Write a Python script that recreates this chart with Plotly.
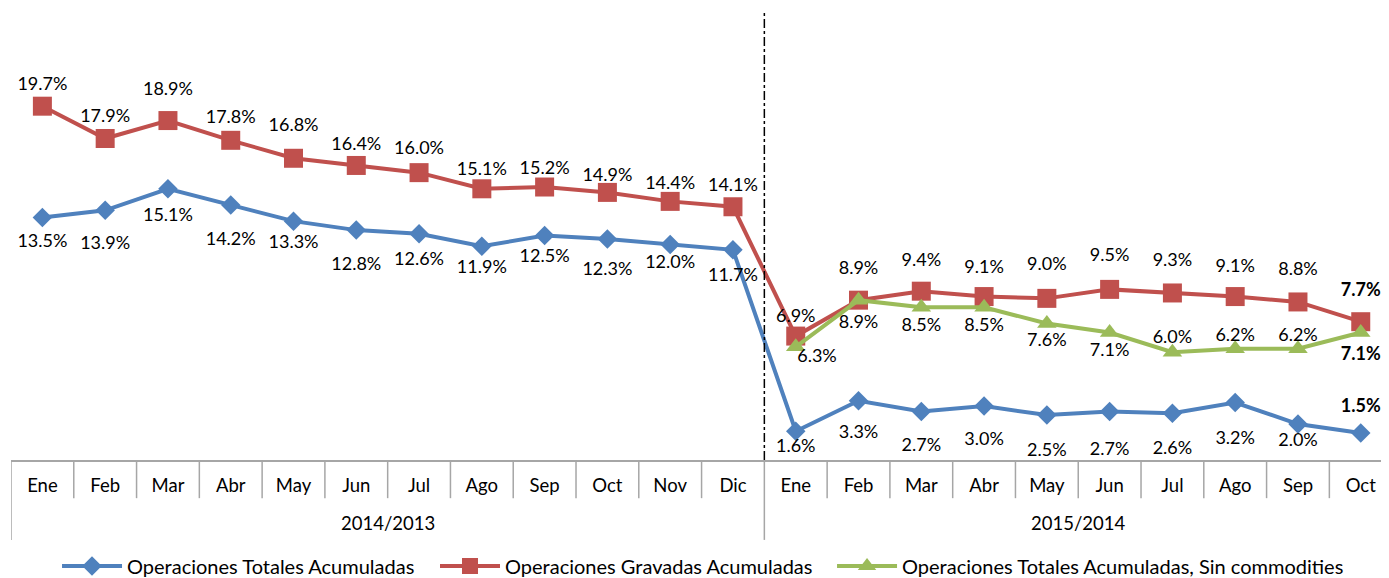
import plotly.graph_objects as go

months = ["Ene", "Feb", "Mar", "Abr", "May", "Jun", "Jul", "Ago", "Sep", "Oct", "Nov", "Dic",
          "Ene", "Feb", "Mar", "Abr", "May", "Jun", "Jul", "Ago", "Sep", "Oct"]
periods = ["2014/2013", "2015/2014"]
period_sizes = [12, 10]

totales = [13.5, 13.9, 15.1, 14.2, 13.3, 12.8, 12.6, 11.9, 12.5, 12.3, 12.0, 11.7,
           1.6, 3.3, 2.7, 3.0, 2.5, 2.7, 2.6, 3.2, 2.0, 1.5]
gravadas = [19.7, 17.9, 18.9, 17.8, 16.8, 16.4, 16.0, 15.1, 15.2, 14.9, 14.4, 14.1,
            6.9, 8.9, 9.4, 9.1, 9.0, 9.5, 9.3, 9.1, 8.8, 7.7]
sin_commod = [None] * 12 + [6.3, 8.9, 8.5, 8.5, 7.6, 7.1, 6.0, 6.2, 6.2, 7.1]

names = ["Operaciones Totales Acumuladas", "Operaciones Gravadas Acumuladas",
         "Operaciones Totales Acumuladas, Sin commodities"]

# ---- styling: label placement (distance in px from the point, and side) ----
gap_tot = [25, 35, 28, 36, 23, 36, 27, 23, 22, 32, 20, 27,
           17, 33, 35, 35, 37, 39, 37, 37, 18, 27]
side_tot = ["bottom center"] * 21 + ["top center"]
gap_grav = [22, 23, 32, 23, 33, 21, 25, 20, 19, 17, 18, 22,
            20, 32, 31, 30, 34, 34, 33, 31, 33, 32]
side_grav = ["top center"] * 22
gap_sin = [0] * 12 + [11, 24, 20, 20, 18, 20, 15, 14, 14, 24]
side_sin = (["bottom center"] * 12 + ["bottom right"] + ["bottom center"] * 5
            + ["top center"] * 3 + ["bottom center"])

BLUE = "#4F81BD"
RED = "#C0504D"
GREEN = "#9BBB59"
FONT = "Lato, 'Liberation Sans', Arial, sans-serif"
LABEL_SIZE = 18

x = list(range(len(months)))
n = len(months)


def labels(vals):
    out = []
    for i, v in enumerate(vals):
        if v is None:
            out.append("")
        elif i == n - 1:
            out.append(f"<b>{v:.1f}%</b>")
        else:
            out.append(f"{v:.1f}%")
    return out


def spacer_sizes(gaps, sides):
    # invisible marker size that pushes the label to the wanted distance
    out = []
    for g, s in zip(gaps, sides):
        c = 11.5 if s.startswith("top") else 10.5
        out.append(max(0.0, 1.6 * (g - c)))
    return out


fig = go.Figure()
series = [
    (totales, names[0], BLUE, "diamond", 15, "legend", gap_tot, side_tot),
    (gravadas, names[1], RED, "square", 19, "legend2", gap_grav, side_grav),
    (sin_commod, names[2], GREEN, "triangle-up", 17, "legend3", gap_sin, side_sin),
]
for vals, name, color, sym, msize, leg, gaps, sides in series:
    fig.add_trace(go.Scatter(
        x=x, y=vals, name=name, mode="lines+markers", legend=leg,
        line=dict(color=color, width=4),
        marker=dict(symbol=sym, size=msize, color=color)))
for vals, name, color, sym, msize, leg, gaps, sides in series:
    fig.add_trace(go.Scatter(
        x=x, y=vals, mode="markers+text", showlegend=False, hoverinfo="skip",
        marker=dict(size=spacer_sizes(gaps, sides), opacity=0, color=color),
        text=labels(vals), textposition=sides,
        textfont=dict(family=FONT, size=LABEL_SIZE, color="#000000"),
        cliponaxis=False))

GRID = "#A6A6A6"
shapes = []
for b in range(n + 1):
    xb = b - 0.5
    is_group = b in (0, period_sizes[0], n)
    shapes.append(dict(type="line", xref="x", yref="paper", x0=xb, x1=xb,
                       y0=0, y1=-0.178 if is_group else -0.085,
                       line=dict(color=GRID, width=1.5)))
sep = period_sizes[0] - 0.5
shapes.append(dict(type="line", xref="x", yref="paper", x0=sep, x1=sep, y0=0, y1=1,
                   line=dict(color="#000000", width=1.5, dash="dashdot")))

annotations = []
start = 0
for p, sz in zip(periods, period_sizes):
    annotations.append(dict(x=start + (sz - 1) / 2, y=-0.140, xref="x", yref="paper",
                            yanchor="middle", text=p, showarrow=False,
                            font=dict(family=FONT, size=18.5, color="#000000")))
    start += sz

legend_common = dict(orientation="h", xanchor="left", xref="container",
                     y=0.021, yanchor="middle", yref="container",
                     font=dict(family=FONT, size=20, color="#000000"),
                     itemwidth=60, bgcolor="rgba(0,0,0,0)")

fig.update_layout(
    width=1381, height=570,
    margin=dict(l=3, r=0, t=3, b=118),
    plot_bgcolor="white", paper_bgcolor="white",
    showlegend=True,
    legend=dict(x=0.0355, **legend_common),
    legend2=dict(x=0.3092, **legend_common),
    legend3=dict(x=0.5967, **legend_common),
    shapes=shapes, annotations=annotations,
    xaxis=dict(range=[-0.5, n - 0.55], tickmode="array", tickvals=x, ticktext=months,
               showgrid=False, zeroline=False, showline=True, linecolor=GRID, linewidth=1.5,
               ticks="outside", ticklen=8, tickcolor="rgba(0,0,0,0)", automargin=False,
               tickfont=dict(family=FONT, size=18.5, color="#000000")),
    yaxis=dict(range=[0, 25], visible=False, showgrid=False, zeroline=False),
)

fig.write_html("out.html")
